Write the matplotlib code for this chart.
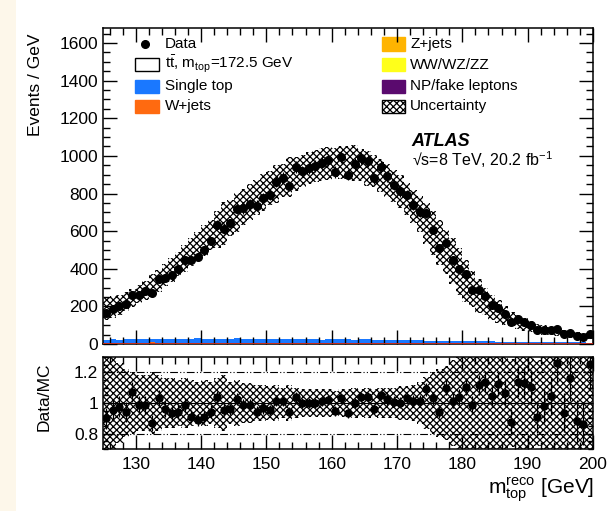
import numpy as np
import matplotlib
matplotlib.use("Agg")
import matplotlib.pyplot as plt
from matplotlib.patches import Rectangle
from matplotlib.ticker import MultipleLocator

plt.rcParams['font.family'] = ['Liberation Sans', 'DejaVu Sans']
plt.rcParams['mathtext.fontset'] = 'custom'
plt.rcParams['mathtext.rm'] = 'Liberation Sans'
plt.rcParams['mathtext.it'] = 'Liberation Sans:italic'
plt.rcParams['hatch.linewidth'] = 0.9

# 1 GeV bins, 125-200 GeV
edges = np.arange(125, 201, 1)
centers = edges[:-1] + 0.5

# total prediction (events / GeV)
mc_total = [185, 195, 205, 225, 245, 265, 285, 310, 335, 365, 395, 425, 455, 490, 520,
            550, 580, 610, 640, 670, 700, 730, 755, 780, 805, 830, 850, 870, 890, 905,
            920, 935, 945, 955, 960, 965, 965, 965, 960, 950, 935, 920, 895, 870, 840,
            810, 770, 730, 690, 640, 590, 540, 490, 440, 385, 335, 292, 255, 224, 196,
            172, 150, 132, 117, 104, 93, 84, 76, 69, 63, 57, 52, 48, 45, 42]

# data / MC
ratio = [0.90, 0.955, 0.976, 0.94, 1.074, 0.987, 0.987, 0.87, 1.03, 0.96, 0.934, 0.944, 0.987, 0.91, 0.89,
         0.91, 0.944, 1.04, 0.954, 0.958, 1.024, 0.987, 0.987, 0.944, 0.965, 0.954, 1.015, 1.015, 0.944, 1.04,
         0.998, 1.0, 1.0, 1.01, 1.02, 0.947, 1.03, 0.932, 0.998, 1.04, 1.04, 0.958, 1.052, 1.024, 1.009,
         1.002, 1.03, 1.015, 1.015, 1.09, 1.03, 0.944, 1.10, 1.015, 1.04, 1.107, 0.987, 1.118, 1.14, 1.046,
         1.124, 1.063, 0.877, 1.14, 1.13, 1.107, 0.91, 0.98, 1.046, 1.26, 0.937, 1.16, 0.884, 0.862, 1.256]

# relative uncertainty of the prediction
rel_unc = [0.32, 0.30, 0.26, 0.22, 0.20, 0.18, 0.18, 0.20, 0.18, 0.16, 0.16, 0.15, 0.16, 0.15, 0.14,
           0.15, 0.14, 0.16, 0.18, 0.14, 0.15, 0.13, 0.13, 0.12, 0.12, 0.11, 0.12, 0.10, 0.12, 0.10,
           0.09, 0.09, 0.09, 0.09, 0.09, 0.08, 0.09, 0.09, 0.10, 0.09, 0.10, 0.09, 0.10, 0.10, 0.10,
           0.11, 0.11, 0.12, 0.14, 0.17, 0.20, 0.22, 0.24, 0.28, 0.32, 0.34, 0.33, 0.35, 0.32, 0.34,
           0.35, 0.33, 0.29, 0.34, 0.35, 0.33, 0.28, 0.35, 0.34, 0.35, 0.33, 0.35, 0.34, 0.35, 0.35]

# backgrounds
single_top = [16, 18, 17, 19, 18, 20, 22, 17, 18, 21, 19, 20, 22, 21, 24,
              20, 19, 22, 20, 21, 23, 20, 22, 21, 20, 22, 21, 20, 19, 21,
              20, 19, 20, 18, 19, 20, 18, 19, 17, 18, 19, 17, 16, 17, 16,
              15, 16, 14, 15, 14, 13, 14, 12, 13, 12, 11, 12, 10, 11, 10,
              9, 10, 9, 8, 9, 8, 7, 8, 7, 7, 6, 7, 6, 6, 5]
w_jets = [3, 4, 3, 5, 4, 4, 3, 6, 4, 5, 4, 5, 3, 4, 5,
          4, 5, 4, 3, 4, 5, 4, 3, 4, 5, 4, 3, 4, 4, 5,
          3, 4, 4, 3, 4, 3, 4, 3, 3, 4, 3, 3, 4, 3, 3,
          3, 2, 3, 3, 2, 3, 2, 2, 3, 2, 2, 3, 2, 2, 2,
          2, 1, 2, 2, 1, 2, 1, 2, 1, 1, 2, 1, 1, 1, 1]
z_jets = [1, 1, 1, 1, 1, 1, 1, 1, 1, 1, 1, 1, 1, 1, 1,
          1, 1, 1, 1, 1, 1, 1, 1, 1, 1, 1, 1, 1, 1, 1,
          1, 1, 1, 1, 1, 1, 1, 1, 1, 1, 1, 1, 1, 1, 1,
          0.5, 0.5, 0.5, 0.5, 0.5, 0.5, 0.5, 0.5, 0.5, 0.5, 0.5, 0.5, 0.5, 0.5, 0.5,
          0.5, 0.5, 0.5, 0.5, 0.5, 0.5, 0.5, 0.5, 0.5, 0.5, 0.5, 0.5, 0.5, 0.5, 0.5]
diboson = [0.3] * 75
fakes = [1.5, 1.5, 1.5, 1.5, 1.5, 1.5, 1.5, 1.5, 1.5, 1.5, 1.5, 1.5, 1.5, 1.5, 1.5,
         1.5, 1.5, 1.5, 1.5, 1.5, 1.5, 1.5, 1.5, 1.5, 1.5, 1.5, 1.5, 1.5, 1.5, 1.5,
         1, 1, 1, 1, 1, 1, 1, 1, 1, 1, 1, 1, 1, 1, 1,
         1, 1, 1, 1, 1, 1, 1, 1, 1, 1, 1, 1, 1, 1, 1,
         0.5, 0.5, 0.5, 0.5, 0.5, 0.5, 0.5, 0.5, 0.5, 0.5, 0.5, 0.5, 0.5, 0.5, 0.5]

bkg_colors = ['#5a0a6e', '#ffff1a', '#ffb400', '#ff6a10', '#1a78ff']

mc = np.array(mc_total, dtype=float)
r = np.array(ratio)
u = np.array(rel_unc)
data = mc * r
data_err = np.sqrt(data)

fig = plt.figure(figsize=(6.08, 5.11), dpi=100)
fig.patches.append(Rectangle((0, 0), 16 / 608, 1, transform=fig.transFigure,
                             facecolor='#fdf7ea', edgecolor='none', zorder=-10))

ax = fig.add_axes([103 / 608, 1 - 344 / 511, 490 / 608, 316 / 511])
axr = fig.add_axes([103 / 608, 1 - 449 / 511, 490 / 608, 92 / 511])

# stacked backgrounds
bottom = np.zeros(len(mc))
for vals, col in zip([fakes, diboson, z_jets, w_jets, single_top], bkg_colors):
    top = bottom + np.array(vals)
    ax.stairs(top, edges, baseline=bottom, fill=True, color=col, lw=0)
    bottom = top
ax.stairs(mc, edges, baseline=bottom, fill=True, facecolor='white', lw=0)
ax.axhline(0, color='#e03020', lw=1.2, zorder=3)

# uncertainty band
ax.stairs(mc * (1 + u), edges, baseline=mc * (1 - u), fill=True,
          facecolor='none', edgecolor='black', hatch='xxxxx', lw=0)
ax.errorbar(centers, data, yerr=data_err, fmt='o', color='black', ms=5.5,
            elinewidth=0.9, capsize=0)

ax.set_xlim(125, 200)
ax.set_ylim(0, 1680)
ax.yaxis.set_major_locator(MultipleLocator(200))
ax.yaxis.set_minor_locator(MultipleLocator(50))

# ratio panel
axr.stairs(1 + u, edges, baseline=1 - u, fill=True, facecolor='none',
           edgecolor='black', hatch='xxxxx', lw=0)
axr.axhline(1.0, color='black', lw=0.8)
for lev in (0.8, 1.2):
    axr.axhline(lev, color='black', lw=0.8, dashes=(7, 2, 1, 2, 1, 2))
axr.errorbar(centers, r, yerr=data_err / mc, fmt='o', color='black', ms=5,
             elinewidth=0.9, capsize=0)
axr.set_xlim(125, 200)
axr.set_ylim(0.7, 1.3)
axr.set_yticks([0.8, 1.0, 1.2])
axr.set_yticklabels(['0.8', '1', '1.2'])
axr.yaxis.set_minor_locator(MultipleLocator(0.05))

for a in (ax, axr):
    a.xaxis.set_major_locator(MultipleLocator(10))
    a.xaxis.set_minor_locator(MultipleLocator(2))
    a.tick_params(which='both', direction='in', top=True, right=True, labelsize=12.5)
    a.tick_params(which='major', length=10, width=1)
    a.tick_params(which='minor', length=5, width=1)
    for s in a.spines.values():
        s.set_linewidth(1.1)
ax.tick_params(labelbottom=False)
axr.tick_params(axis='y', which='major', length=7)
axr.tick_params(axis='y', which='minor', length=3.5)
axr.tick_params(axis='x', pad=6)

fig.text(36 / 608, 1 - 85 / 511, 'Events / GeV', rotation=90, ha='center', va='center', fontsize=12.5)
fig.text(44 / 608, 1 - 397 / 511, 'Data/MC', rotation=90, ha='center', va='center', fontsize=12.5)
fig.text(594 / 608, 1 - 490 / 511, r'$\mathrm{m}_{\rm top}^{\rm reco}$ [GeV]', ha='right',
         va='center', fontsize=15)

# legend
rows = [0.949, 0.884, 0.815, 0.752]
bw, bh = 0.05, 0.042
ax.plot([0.086], [rows[0]], 'o', color='black', ms=5.5, transform=ax.transAxes)
ax.text(0.127, rows[0], 'Data', transform=ax.transAxes, va='center', fontsize=11)
left_boxes = [(r'$\mathrm{t\bar{t}}$, m$_{\rm top}$=172.5 GeV', 'white'),
              ('Single top', bkg_colors[4]), ('W+jets', bkg_colors[3])]
for (lab, col), y in zip(left_boxes, rows[1:]):
    ax.add_patch(Rectangle((0.065, y - bh / 2), bw, bh, transform=ax.transAxes,
                           facecolor=col, edgecolor='black' if col == 'white' else col, lw=1))
    ax.text(0.127, y, lab, transform=ax.transAxes, va='center', fontsize=11)
right_boxes = [('Z+jets', bkg_colors[2]), ('WW/WZ/ZZ', bkg_colors[1]),
               ('NP/fake leptons', bkg_colors[0])]
for (lab, col), y in zip(right_boxes, rows[:3]):
    ax.add_patch(Rectangle((0.569, y - bh / 2), 0.047, bh, transform=ax.transAxes,
                           facecolor=col, edgecolor=col, lw=1))
    ax.text(0.627, y, lab, transform=ax.transAxes, va='center', fontsize=11)
ax.add_patch(Rectangle((0.569, rows[3] - bh / 2), 0.047, bh, transform=ax.transAxes,
                       facecolor='white', edgecolor='black', hatch='xxxxx', lw=1))
ax.text(0.627, rows[3], 'Uncertainty', transform=ax.transAxes, va='center', fontsize=11)

ax.text(0.63, 0.642, 'ATLAS', transform=ax.transAxes, va='center', fontsize=13,
        fontweight='bold', fontstyle='italic')
ax.text(0.63, 0.582, '√s=8 TeV, 20.2 fb$^{\\mathrm{-1}}$', transform=ax.transAxes,
        va='center', fontsize=11.5)

fig.savefig('out.png', dpi=100)
